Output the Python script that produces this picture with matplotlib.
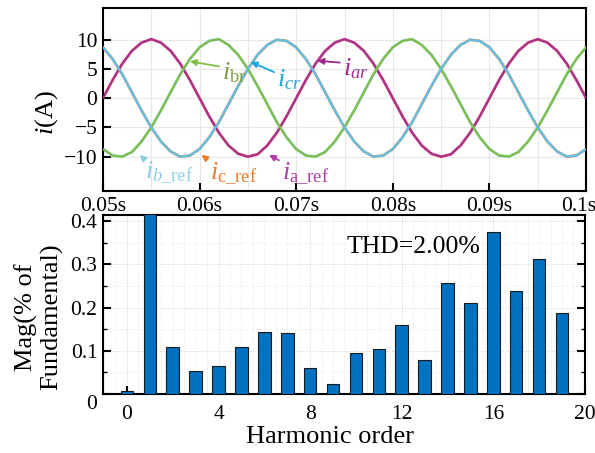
import numpy as np
import matplotlib
matplotlib.use('Agg')
import matplotlib.pyplot as plt
from matplotlib.ticker import MultipleLocator
from matplotlib.transforms import ScaledTranslation

plt.rcParams['font.family'] = ['Liberation Serif', 'DejaVu Serif']
plt.rcParams['mathtext.fontset'] = 'custom'
plt.rcParams['mathtext.rm'] = 'Liberation Serif'
plt.rcParams['mathtext.it'] = 'Liberation Serif:italic'

# --- three-phase currents, sampled every 1 ms from 0.05 s to 0.1 s ---
t_ms = np.arange(50, 101)  # time in ms
i_a = [0.0, 3.1, 5.9, 8.1, 9.5, 10.1, 9.5, 8.1, 5.9, 3.1,
       0.0, -3.1, -5.9, -8.1, -9.5, -10.0, -9.6, -8.1, -5.9, -3.1,
       0.0, 3.1, 5.9, 8.1, 9.5, 10.1, 9.5, 8.1, 5.9, 3.1,
       0.0, -3.1, -5.9, -8.1, -9.5, -10.0, -9.6, -8.1, -5.9, -3.1,
       0.0, 3.1, 5.9, 8.1, 9.5, 10.1, 9.5, 8.1, 5.9, 3.1, 0.0]
i_b = [-8.7, -9.8, -10.0, -9.2, -7.4, -5.0, -2.1, 1.0, 4.1, 6.7,
       8.7, 9.8, 10.1, 9.1, 7.4, 5.0, 2.1, -1.0, -4.1, -6.7,
       -8.7, -9.8, -10.0, -9.2, -7.4, -5.0, -2.1, 1.0, 4.1, 6.7,
       8.7, 9.8, 10.1, 9.1, 7.4, 5.0, 2.1, -1.0, -4.1, -6.7,
       -8.7, -9.8, -10.0, -9.2, -7.4, -5.0, -2.1, 1.0, 4.1, 6.7, 8.7]
i_c = [8.7, 6.7, 4.1, 1.0, -2.1, -5.0, -7.4, -9.1, -10.0, -9.8,
       -8.7, -6.7, -4.1, -1.0, 2.1, 5.0, 7.4, 9.1, 10.0, 9.8,
       8.7, 6.7, 4.1, 1.0, -2.1, -5.0, -7.4, -9.1, -10.0, -9.8,
       -8.7, -6.7, -4.1, -1.0, 2.1, 5.0, 7.4, 9.1, 10.0, 9.8,
       8.7, 6.7, 4.1, 1.0, -2.1, -5.0, -7.4, -9.1, -10.0, -9.8, -8.7]
time_ticks = [0.05, 0.06, 0.07, 0.08, 0.09, 0.1]
time_labels = ['0.05s', '0.06s', '0.07s', '0.08s', '0.09s', '0.1s']

# --- harmonic spectrum (fundamental clipped at the top) ---
orders = np.arange(0, 20)
mags = [0.007, 100.0, 0.108, 0.053, 0.064, 0.110, 0.143, 0.141, 0.061, 0.023,
        0.094, 0.105, 0.161, 0.078, 0.257, 0.211, 0.374, 0.238, 0.312, 0.188]
thd = 2.00

t = t_ms / 1000.0

col_ar, col_aref = '#9a3796', '#d8386a'
col_br, col_bref = '#80bf45', '#8ecfe8'
col_cr, col_cref = '#5cc2ec', '#f08a3c'

fig = plt.figure(figsize=(5.95, 4.53), dpi=100)
ax1 = fig.add_axes([0.173, 0.578, 0.812, 0.404])
ax2 = fig.add_axes([0.173, 0.130, 0.810, 0.395])

# top: waveforms, reference lines under the measured ones
ax1.plot(t, i_a, color=col_aref, lw=2.0, zorder=2)
ax1.plot(t, i_b, color=col_bref, lw=2.0, zorder=2)
ax1.plot(t, i_c, color=col_cref, lw=2.0, zorder=2)
ax1.plot(t, i_a, color=col_ar, lw=1.1, zorder=3)
ax1.plot(t, i_b, color=col_br, lw=1.6, zorder=3)
ax1.plot(t, i_c, color=col_cr, lw=1.6, zorder=3)

ax1.set_xlim(0.05, 0.1)
ax1.set_ylim(-15.9, 15.4)
ax1.set_xticks(time_ticks)
ax1.set_xticklabels(time_labels)
ax1.set_yticks([-10, -5, 0, 5, 10])
ax1.xaxis.set_minor_locator(MultipleLocator(0.005))
ax1.grid(True, which='both', color='#e8e8e8', lw=0.8, zorder=0)
ax1.tick_params(axis='both', which='major', direction='in', length=6, width=1.5,
                labelsize=15.5, pad=4)
ax1.tick_params(axis='x', which='minor', length=0)
ax1.set_ylabel(r'$i$(A)', fontsize=19)
ax1.yaxis.set_label_coords(-0.088, 0.43)

# last time label sits against the right edge
last_lbl = ax1.get_xticklabels()[-1]
last_lbl.set_horizontalalignment('right')
last_lbl.set_transform(last_lbl.get_transform() + ScaledTranslation(7 / 72, 0, fig.dpi_scale_trans))

arrow_kw = dict(arrowstyle='-|>', lw=1.3, mutation_scale=9, shrinkA=0, shrinkB=0)
labels = [
    (r'$i_{\mathrm{br}}$', (0.0590, 6.3), (0.0623, 4.3), col_br, '#7d9d3f', (0.0, 0.75)),
    (r'$i_{cr}$', (0.0653, 6.2), (0.0680, 3.2), '#1aa8e0', '#1aa8e0', (0.0, 0.75)),
    (r'$i_{ar}$', (0.0722, 6.4), (0.0748, 5.0), '#9c2a8e', '#9c2a8e', (0.0, 0.75)),
    (r'$i_{b\_\mathrm{ref}}$', (0.0538, -9.7), (0.0544, -12.8), col_bref, col_bref, (0.05, 0.9)),
    (r'$i_{\mathrm{c\_ref}}$', (0.0602, -9.7), (0.0611, -12.9), '#f07a2a', '#f07a2a', (0.05, 0.9)),
    (r'$i_{\mathrm{a\_ref}}$', (0.0672, -9.7), (0.0685, -12.9), '#b03aa8', '#b03aa8', (0.05, 0.9)),
]
for txt, tip, pos, acol, tcol, rp in labels:
    ax1.annotate(txt, xy=tip, xytext=pos, ha='left', va='center', fontsize=19,
                 color=tcol, zorder=5,
                 arrowprops=dict(color=acol, relpos=rp, **arrow_kw))

for sp in ax1.spines.values():
    sp.set_linewidth(1.5)

# bottom: harmonic bars
ax2.bar(orders, mags, width=0.55, color='#0070c0', edgecolor='#1a1a1a', lw=0.8, zorder=3)
ax2.set_xlim(-1.05, 20)
ax2.set_ylim(0, 0.414)
ax2.set_xticks([0, 4, 8, 12, 16, 20])
ax2.set_yticks([0, 0.1, 0.2, 0.3, 0.4])
ax2.set_yticklabels(['0', '0.1', '0.2', '0.3', '0.4'])
ax2.xaxis.set_minor_locator(MultipleLocator(0.5))
ax2.yaxis.set_minor_locator(MultipleLocator(0.05))
ax2.grid(True, which='major', color='#d0d0d0', lw=0.7, ls=':', zorder=0)
ax2.grid(True, which='minor', color='#e0e0e0', lw=0.6, ls=':', zorder=0)
ax2.tick_params(axis='both', which='major', direction='in', length=6, width=1.5,
                labelsize=15.5, right=True)
ax2.tick_params(axis='x', which='major', pad=8)
ax2.tick_params(axis='y', which='major', pad=4)
ax2.tick_params(axis='y', which='minor', direction='in', length=3, width=1, right=True)
ax2.tick_params(axis='x', which='minor', length=0)
for sp in ax2.spines.values():
    sp.set_linewidth(1.5)

# push the zero label a little below the axis line
zero_lbl = ax2.get_yticklabels()[0]
zero_lbl.set_transform(zero_lbl.get_transform() + ScaledTranslation(0, -6 / 72, fig.dpi_scale_trans))

ax2.set_ylabel('Mag(% of\nFundamental)', fontsize=19, linespacing=1.12)
ax2.yaxis.set_label_coords(-0.083, 0.43)
ax2.set_xlabel('Harmonic order', fontsize=19)
ax2.xaxis.set_label_coords(0.471, -0.18)

ax2.text(0.645, 0.821, f'THD={thd:.2f}%', transform=ax2.transAxes, ha='center',
         va='center', fontsize=18.5)

fig.savefig('out.png', dpi=100)
